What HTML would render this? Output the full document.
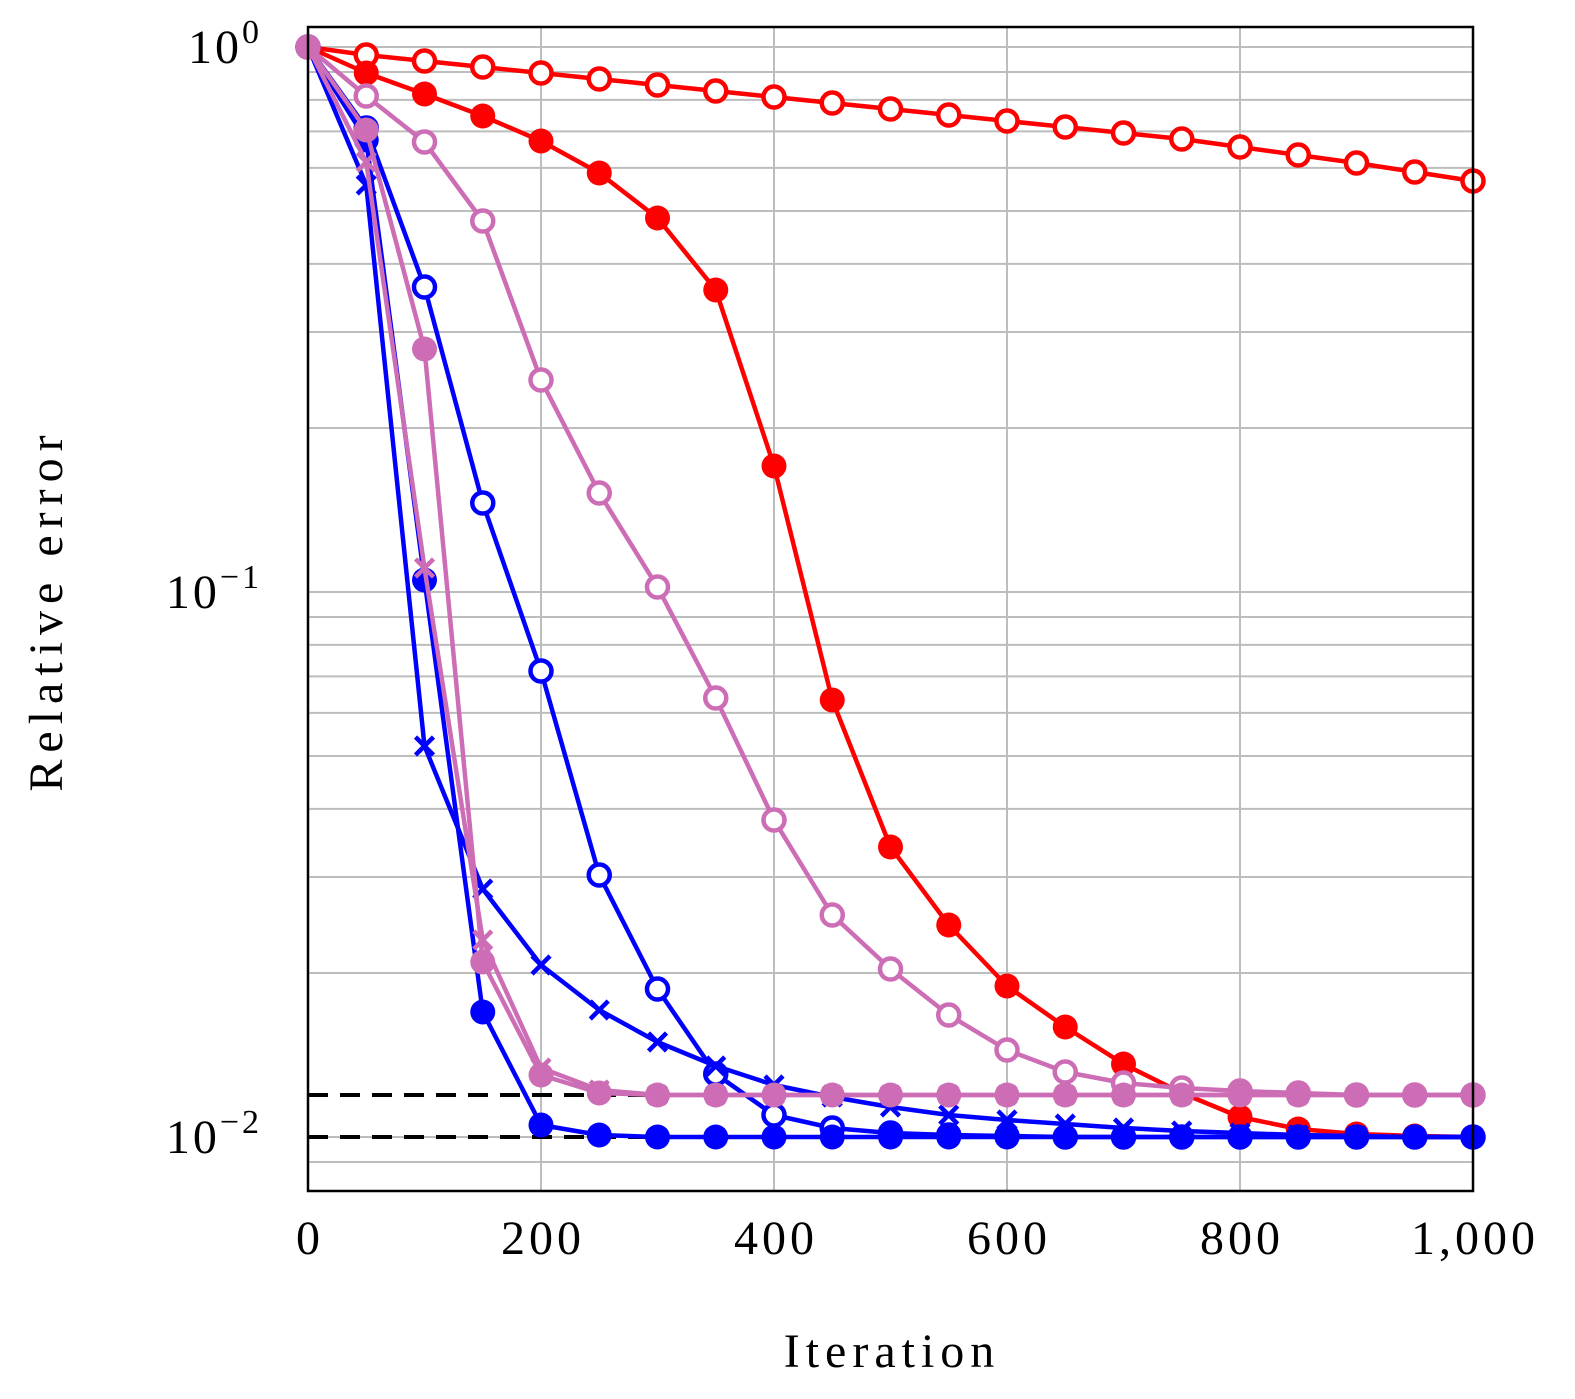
<!DOCTYPE html>
<html><head><meta charset="utf-8"><style>
html,body{margin:0;padding:0;background:#fff}
svg{display:block}
text{font-family:"Liberation Serif","DejaVu Serif",serif;fill:#000}
</style></head><body>
<svg id="s" width="1575" height="1399" viewBox="0 0 1575 1399" xmlns="http://www.w3.org/2000/svg">
<g id="grid" stroke="#bdbdbd" stroke-width="2"></g>
<g id="data"></g>
<rect x="308" y="27" width="1165" height="1164" fill="none" stroke="#000" stroke-width="2.5"/>
<g font-size="48">
<text x="262" y="63" text-anchor="end" letter-spacing="3">10<tspan dy="-20" font-size="34">0</tspan></text>
<text x="262" y="608" text-anchor="end" letter-spacing="3">10<tspan dy="-20" font-size="34">−1</tspan></text>
<text x="262" y="1153" text-anchor="end" letter-spacing="3">10<tspan dy="-20" font-size="34">−2</tspan></text>
<g letter-spacing="4">
<text x="310" y="1254" text-anchor="middle">0</text>
<text x="543" y="1254" text-anchor="middle">200</text>
<text x="776" y="1254" text-anchor="middle">400</text>
<text x="1009" y="1254" text-anchor="middle">600</text>
<text x="1242" y="1254" text-anchor="middle">800</text>
<text x="1475" y="1254" text-anchor="middle">1,000</text>
</g>
<text x="892" y="1367" text-anchor="middle" letter-spacing="6">Iteration</text>
<text transform="translate(62,610) rotate(-90)" text-anchor="middle" letter-spacing="7">Relative error</text>
</g>
</svg>
<script>
var NS="http://www.w3.org/2000/svg";
function el(p,t,a){var e=document.createElementNS(NS,t);for(var k in a)e.setAttribute(k,a[k]);p.appendChild(e);return e;}
var g=document.getElementById("grid");
for(var i=0;i<=5;i++){var x=308+233*i;el(g,"line",{x1:x,x2:x,y1:27,y2:1191});}
function ly(v){return 1137-545*(Math.log10(v)+2);}
var vals=[0.009];
for(var d=-2;d<0;d++)for(var k=1;k<10;k++)vals.push(k*Math.pow(10,d));
vals.push(1);
vals.forEach(function(v){var y=ly(v);if(y>=27&&y<=1191)el(g,"line",{x1:308,x2:1473,y1:y,y2:y});});
var D=document.getElementById("data");
el(D,"line",{x1:308,x2:1473,y1:1095,y2:1095,stroke:"#000","stroke-width":4,"stroke-dasharray":"20,12"});
el(D,"line",{x1:308,x2:1473,y1:1137,y2:1137,stroke:"#000","stroke-width":4,"stroke-dasharray":"20,12"});
function X(i){return 308+i*58.25;}
function fill(a,n,v){while(a.length<n)a.push(v);return a;}
var R="#ff0000",B="#0000ff",P="#cc6db5";
var S=[
[R,"o",[47,55,61,67,73,79,85,91,97,103,109,115,121,127,133,139,147,155,163,172,181]],
[R,"f",[47,73,94,116,141,173,218,290,466,700,847,925,986,1027,1064,1093,1117,1129,1134,1136,1137]],
[B,"o",fill([47,128,287,503,671,875,989,1074,1115,1128,1133,1135,1136],21,1137)],
[B,"x",fill([47,185,746,889,965,1010,1042,1066,1085,1097,1107,1115,1120,1124,1128,1131,1133,1135,1136],21,1137)],
[B,"f",fill([47,140,580,1012,1125,1135],21,1137)],
[P,"o",fill([47,96,142,221,380,493,587,698,820,915,969,1015,1050,1072,1083,1088,1091,1093],21,1095)],
[P,"x",fill([47,162,568,940,1068,1090],21,1095)],
[P,"f",fill([47,130,349,962,1075,1093],21,1095)]
];
S.forEach(function(s){
 var c=s[0],m=s[1],ys=s[2],pts=ys.map(function(y,i){return X(i)+","+y;}).join(" ");
 el(D,"polyline",{points:pts,fill:"none",stroke:c,"stroke-width":4.5,"stroke-linejoin":"round"});
 ys.forEach(function(y,i){var x=X(i);
  if(m=="o")el(D,"circle",{cx:x,cy:y,r:10.5,fill:"#fff",stroke:c,"stroke-width":4.5});
  else if(m=="f")el(D,"circle",{cx:x,cy:y,r:12.5,fill:c});
  else{el(D,"path",{d:"M"+(x-9)+" "+(y-9)+"L"+(x+9)+" "+(y+9)+"M"+(x-9)+" "+(y+9)+"L"+(x+9)+" "+(y-9),stroke:c,"stroke-width":4.5});}
 });
});
</script>
</body></html>
